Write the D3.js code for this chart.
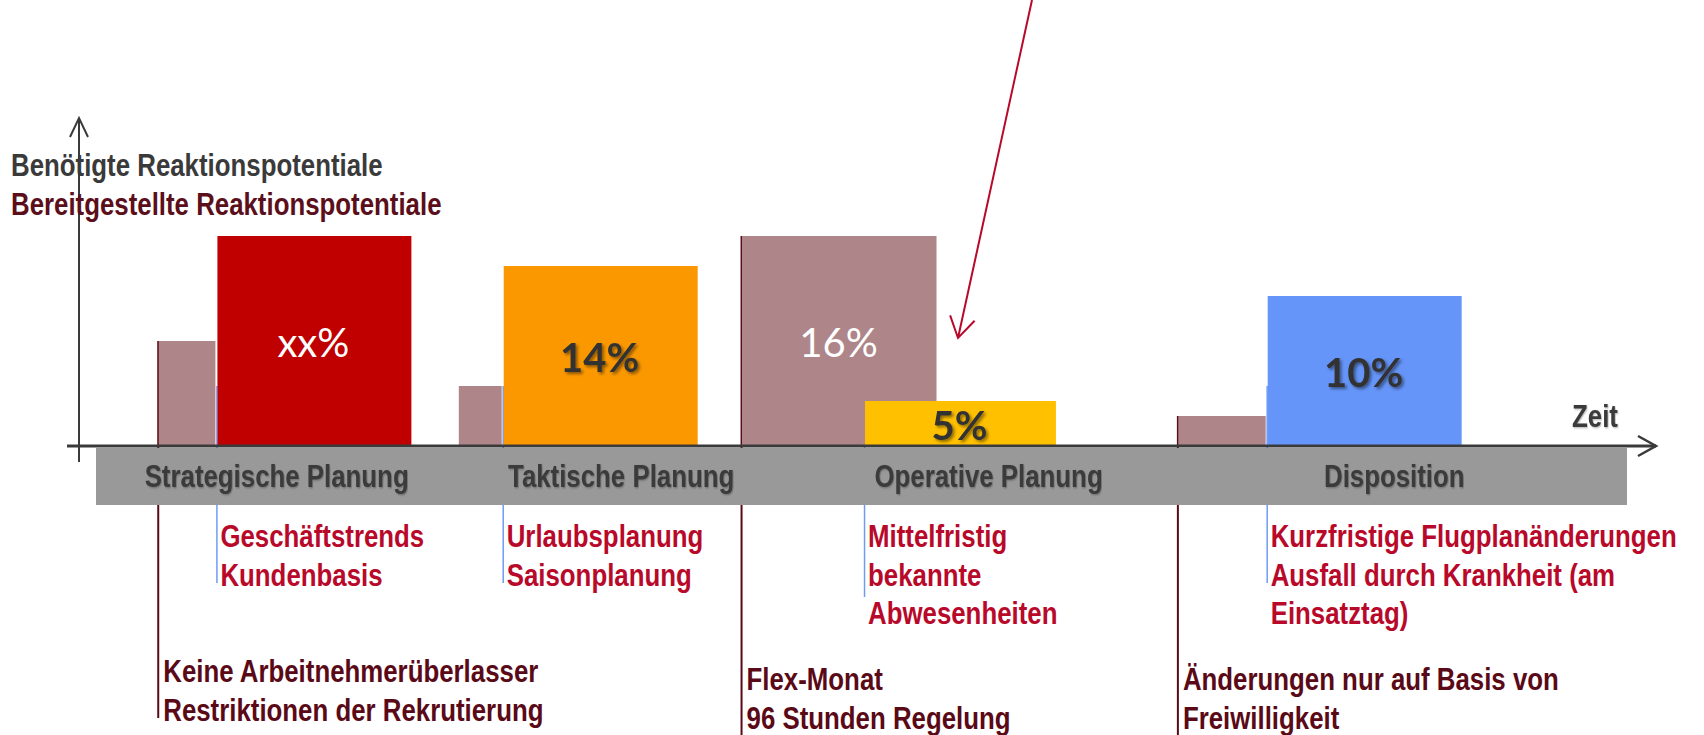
<!DOCTYPE html>
<html>
<head>
<meta charset="utf-8">
<script src="https://cdn.jsdelivr.net/npm/d3@7"></script>
<style>
  body { margin: 0; background: #fff; }
  .narrow { font-family: 'Liberation Sans', Arial, sans-serif; font-weight: bold; font-size: 31.5px; }
  .pct { font-family: Lato, 'Open Sans', sans-serif; font-size: 40px; }
</style>
</head>
<body>
<div id="chart"></div>
<script>
// phases on the time axis
const phases = ['Strategische Planung', 'Taktische Planung', 'Operative Planung', 'Disposition'];
const phaseCenter = [11.8, 34.3, 58.3, 84.8];

// needed reaction potential (mauve bars)
const neededStart = [4.0, 23.6, 42.1, 70.6];
const neededEnd = [7.8, 26.5, 54.9, 76.4];
const neededValue = [35, 20, 70, 10];
const neededLabel = ['', '', '16%', ''];
const neededNotes = [
  ['Keine Arbeitnehmerüberlasser', 'Restriktionen der Rekrutierung'],
  [],
  ['Flex-Monat', '96 Stunden Regelung'],
  ['Änderungen nur auf Basis von', 'Freiwilligkeit']
];

// provided reaction potential (coloured bars)
const providedStart = [7.8, 26.5, 50.1, 76.4];
const providedEnd = [20.6, 39.3, 62.7, 89.2];
const providedValue = [70, 60, 15, 50];
const providedLabel = ['xx%', '14%', '5%', '10%'];
const providedNotes = [
  ['Geschäftstrends', 'Kundenbasis'],
  ['Urlaubsplanung', 'Saisonplanung'],
  ['Mittelfristig', 'bekannte', 'Abwesenheiten'],
  ['Kurzfristige Flugplanänderungen', 'Ausfall durch Krankheit (am', 'Einsatztag)']
];

// chart setup
const width = 1704;
const height = 735;
const axisY = 446;
const axisX = 79;
const bandTop = 448;
const bandBottom = 505;
const squeeze = 0.82; // narrow bold look
const providedColor = ['#c00000', '#fb9800', '#ffc000', '#6595f9'];
const neededColor = '#ae8589';
const maroon = '#5a0a17';
const crimson = '#b8092a';
const noteBlue = '#6f9bf5';
const ink = '#3a3a3a';

let x = d3.scaleLinear().domain([0, 100]).range([96, 1627]);
let y = d3.scaleLinear().domain([0, 100]).range([axisY, axisY - 300]);

let svg = d3.select('#chart').append('svg')
  .attr('width', width)
  .attr('height', height);

let defs = svg.append('defs');
let shadow = defs.append('filter').attr('id', 'shadow')
  .attr('x', '-20%').attr('y', '-20%').attr('width', '140%').attr('height', '140%');
shadow.append('feDropShadow')
  .attr('dx', 2).attr('dy', 2).attr('stdDeviation', 1.5)
  .attr('flood-color', '#000').attr('flood-opacity', 0.45);
let softShadow = defs.append('filter').attr('id', 'softShadow')
  .attr('x', '-10%').attr('y', '-20%').attr('width', '120%').attr('height', '140%');
softShadow.append('feDropShadow')
  .attr('dx', 1).attr('dy', 1).attr('stdDeviation', 0.8)
  .attr('flood-color', '#000').attr('flood-opacity', 0.3);

const needed = neededValue.map((v, i) => ({
  start: neededStart[i], end: neededEnd[i], value: v, label: neededLabel[i], notes: neededNotes[i]
}));
const provided = providedValue.map((v, i) => ({
  start: providedStart[i], end: providedEnd[i], value: v, label: providedLabel[i],
  notes: providedNotes[i], color: providedColor[i]
}));

// narrow text helper: horizontally squeezed bold text
function narrowText(sel, tx, ty) {
  return sel.append('text')
    .attr('class', 'narrow')
    .attr('transform', `translate(${tx},${ty}) scale(${squeeze},1)`);
}

// note guide lines (behind bars and band)
svg.selectAll('line.needed-guide')
  .data(needed.filter(d => d.notes.length))
  .enter().append('line')
  .attr('class', 'needed-guide')
  .attr('x1', d => x(d.start) + 1).attr('x2', d => x(d.start) + 1)
  .attr('y1', d => y(d.value))
  .attr('y2', (d, i) => i == 0 ? 718 : 735)
  .attr('stroke', maroon).attr('stroke-width', 2);

svg.selectAll('line.provided-guide')
  .data(provided)
  .enter().append('line')
  .attr('class', 'provided-guide')
  .attr('x1', d => x(d.start) + 1.5).attr('x2', d => x(d.start) + 1.5)
  .attr('y1', axisY - 60)
  .attr('y2', (d, i) => i == 2 ? 597 : 583)
  .attr('stroke', noteBlue).attr('stroke-width', 1.5);

// bars
svg.selectAll('rect.needed')
  .data(needed)
  .enter().append('rect')
  .attr('class', 'needed')
  .attr('x', d => x(d.start) + 1.5)
  .attr('y', d => y(d.value))
  .attr('width', d => x(d.end) - x(d.start) - 1.5)
  .attr('height', d => y(0) - y(d.value))
  .attr('fill', neededColor);

svg.selectAll('rect.provided')
  .data(provided)
  .enter().append('rect')
  .attr('class', 'provided')
  .attr('x', d => x(d.start) + 2)
  .attr('y', d => y(d.value))
  .attr('width', d => x(d.end) - x(d.start) - 2)
  .attr('height', d => y(0) - y(d.value))
  .attr('fill', d => d.color);

// bar labels
svg.selectAll('text.needed-label')
  .data(needed.filter(d => d.label))
  .enter().append('text')
  .attr('class', 'pct')
  .attr('x', d => (x(d.start) + x(d.end)) / 2)
  .attr('y', d => (y(d.value) + y(0)) / 2 + 16)
  .attr('text-anchor', 'middle')
  .style('fill', '#fff')
  .text(d => d.label);

svg.selectAll('text.provided-label')
  .data(provided)
  .enter().append('text')
  .attr('class', 'pct')
  .attr('x', d => (x(d.start) + x(d.end)) / 2)
  .attr('y', d => (y(d.value) + y(0)) / 2 + 16)
  .attr('text-anchor', 'middle')
  .style('font-weight', (d, i) => i == 0 ? 'normal' : 'bold')
  .style('fill', (d, i) => i == 0 ? '#fff' : '#333')
  .attr('filter', (d, i) => i == 0 ? null : 'url(#shadow)')
  .text(d => d.label);

// phase band
svg.append('rect')
  .attr('x', x(0)).attr('y', bandTop)
  .attr('width', x(100) - x(0)).attr('height', bandBottom - bandTop)
  .attr('fill', '#999999');

phases.forEach((p, i) => {
  narrowText(svg, x(phaseCenter[i]), 487)
    .attr('text-anchor', 'middle')
    .attr('filter', 'url(#softShadow)')
    .style('fill', ink)
    .text(p);
});

// axes
svg.append('line')
  .attr('x1', 67).attr('x2', 1656).attr('y1', axisY).attr('y2', axisY)
  .attr('stroke', ink).attr('stroke-width', 3);
svg.append('path')
  .attr('d', `M1638,${axisY - 10} L1656,${axisY} L1638,${axisY + 10}`)
  .attr('fill', 'none').attr('stroke', ink).attr('stroke-width', 2.5);
svg.append('line')
  .attr('x1', axisX).attr('x2', axisX).attr('y1', 462).attr('y2', 118)
  .attr('stroke', ink).attr('stroke-width', 2);
svg.append('path')
  .attr('d', `M${axisX - 9},137 L${axisX},118 L${axisX + 9},137`)
  .attr('fill', 'none').attr('stroke', ink).attr('stroke-width', 2);

narrowText(svg, 1572, 427)
  .style('fill', ink)
  .attr('filter', 'url(#softShadow)')
  .text('Zeit');

// legend titles
narrowText(svg, 11, 176)
  .style('fill', ink)
  .text('Benötigte Reaktionspotentiale');
narrowText(svg, 11, 215)
  .style('fill', '#5b0f1b')
  .text('Bereitgestellte Reaktionspotentiale');

// notes below the band
function drawNotes(data, dx, y0, color) {
  data.forEach((d, k) => {
    d.notes.forEach((n, i) => {
      narrowText(svg, x(d.start) + dx, y0(k) + i * 38.5)
        .style('fill', color)
        .text(n);
    });
  });
}
drawNotes(provided, 5, k => 547, crimson);
drawNotes(needed, 6, k => k == 0 ? 682 : 690, maroon);

// annotation arrow
const tip = [958, 338];
const tail = [1032, 0];
const ang = Math.atan2(tail[1] - tip[1], tail[0] - tip[0]);
const wing = 24;
const spread = 0.55;
svg.append('path')
  .attr('d', `M${tail[0]},${tail[1]} L${tip[0]},${tip[1]}` +
    ` M${tip[0] + wing * Math.cos(ang - spread)},${tip[1] + wing * Math.sin(ang - spread)}` +
    ` L${tip[0]},${tip[1]} L${tip[0] + wing * Math.cos(ang + spread)},${tip[1] + wing * Math.sin(ang + spread)}`)
  .attr('fill', 'none')
  .attr('stroke', crimson)
  .attr('stroke-width', 2);
</script>
</body>
</html>
